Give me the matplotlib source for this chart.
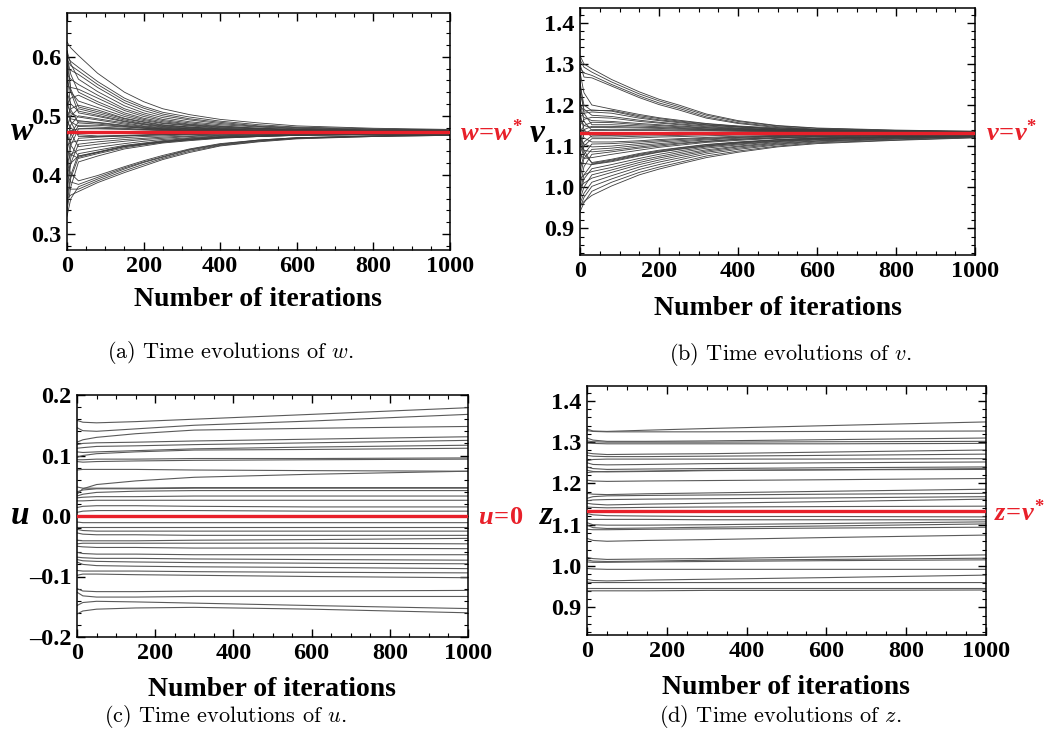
import numpy as np
import matplotlib
matplotlib.use("Agg")
from matplotlib import pyplot as plt
from matplotlib.ticker import MultipleLocator, FuncFormatter

# sample iterations for (a), (b) and for (c), (d)
t_conv = [0, 10, 30, 80, 150, 200, 250, 320, 400, 500, 600, 800, 1000]
t_flat = [0, 15, 50, 150, 300, 600, 1000]

# (a) w trajectories, one list per sample iteration
w_0 = [0.625, 0.600, 0.595, 0.580, 0.610, 0.570, 0.550, 0.600, 0.520, 0.560, 0.500, 0.590, 0.480, 0.540,
       0.610, 0.460, 0.520, 0.440, 0.500, 0.580, 0.420, 0.510, 0.400, 0.470, 0.490, 0.380, 0.540, 0.450,
       0.370, 0.500, 0.420, 0.360, 0.470, 0.350, 0.400, 0.440, 0.340, 0.400, 0.330, 0.380, 0.360, 0.420]
w_10 = [0.615, 0.592, 0.585, 0.577, 0.588, 0.562, 0.548, 0.570, 0.530, 0.540, 0.512, 0.545, 0.500, 0.520,
        0.540, 0.485, 0.505, 0.470, 0.495, 0.510, 0.460, 0.490, 0.450, 0.475, 0.480, 0.430, 0.490, 0.455,
        0.420, 0.470, 0.435, 0.400, 0.450, 0.395, 0.420, 0.435, 0.380, 0.388, 0.360, 0.376, 0.366, 0.402]
w_30 = [0.602, 0.582, 0.576, 0.570, 0.562, 0.553, 0.545, 0.540, 0.535, 0.525, 0.518, 0.515, 0.512, 0.508,
        0.505, 0.500, 0.498, 0.490, 0.492, 0.488, 0.484, 0.482, 0.478, 0.478, 0.468, 0.462, 0.465, 0.458,
        0.452, 0.448, 0.442, 0.436, 0.432, 0.430, 0.432, 0.428, 0.422, 0.384, 0.380, 0.376, 0.372, 0.390]
w_80 = [0.572, 0.558, 0.553, 0.548, 0.541, 0.535, 0.530, 0.524, 0.520, 0.514, 0.510, 0.507, 0.504, 0.501,
        0.499, 0.495, 0.493, 0.489, 0.488, 0.486, 0.484, 0.481, 0.479, 0.478, 0.466, 0.464, 0.465, 0.460,
        0.456, 0.452, 0.447, 0.442, 0.439, 0.438, 0.438, 0.436, 0.432, 0.396, 0.393, 0.390, 0.387, 0.399]
w_150 = [0.540, 0.530, 0.526, 0.522, 0.517, 0.512, 0.509, 0.505, 0.502, 0.499, 0.496, 0.495, 0.493, 0.491,
         0.490, 0.488, 0.486, 0.484, 0.483, 0.482, 0.481, 0.479, 0.478, 0.477, 0.467, 0.466, 0.466, 0.463,
         0.460, 0.457, 0.453, 0.450, 0.449, 0.448, 0.448, 0.446, 0.444, 0.412, 0.410, 0.407, 0.404, 0.414]
w_200 = [0.524, 0.516, 0.513, 0.509, 0.505, 0.502, 0.499, 0.496, 0.494, 0.492, 0.490, 0.489, 0.487, 0.486,
         0.485, 0.483, 0.482, 0.481, 0.480, 0.479, 0.479, 0.477, 0.477, 0.476, 0.468, 0.467, 0.467, 0.465,
         0.462, 0.460, 0.457, 0.454, 0.453, 0.452, 0.452, 0.451, 0.449, 0.422, 0.421, 0.418, 0.415, 0.424]
w_250 = [0.512, 0.506, 0.503, 0.500, 0.497, 0.494, 0.492, 0.490, 0.488, 0.487, 0.485, 0.484, 0.483, 0.482,
         0.481, 0.480, 0.479, 0.478, 0.478, 0.477, 0.477, 0.476, 0.476, 0.475, 0.469, 0.468, 0.468, 0.466,
         0.464, 0.462, 0.460, 0.458, 0.457, 0.456, 0.456, 0.455, 0.454, 0.431, 0.430, 0.428, 0.426, 0.433]
w_320 = [0.502, 0.498, 0.495, 0.493, 0.490, 0.488, 0.486, 0.485, 0.484, 0.483, 0.481, 0.481, 0.480, 0.479,
         0.478, 0.478, 0.477, 0.477, 0.476, 0.475, 0.475, 0.475, 0.475, 0.474, 0.470, 0.469, 0.469, 0.468,
         0.466, 0.465, 0.463, 0.462, 0.461, 0.460, 0.460, 0.459, 0.458, 0.443, 0.442, 0.440, 0.438, 0.444]
w_400 = [0.494, 0.491, 0.489, 0.487, 0.485, 0.483, 0.482, 0.481, 0.480, 0.479, 0.478, 0.478, 0.477, 0.477,
         0.476, 0.476, 0.475, 0.475, 0.475, 0.474, 0.474, 0.474, 0.474, 0.474, 0.470, 0.470, 0.470, 0.469,
         0.468, 0.467, 0.466, 0.465, 0.464, 0.464, 0.463, 0.463, 0.462, 0.452, 0.451, 0.450, 0.449, 0.453]
w_500 = [0.488, 0.485, 0.483, 0.482, 0.481, 0.479, 0.479, 0.478, 0.478, 0.477, 0.476, 0.476, 0.475, 0.475,
         0.475, 0.475, 0.474, 0.474, 0.474, 0.474, 0.473, 0.473, 0.473, 0.473, 0.471, 0.471, 0.471, 0.470,
         0.469, 0.468, 0.468, 0.467, 0.466, 0.466, 0.465, 0.465, 0.465, 0.459, 0.458, 0.457, 0.456, 0.459]
w_600 = [0.483, 0.481, 0.480, 0.479, 0.478, 0.477, 0.477, 0.476, 0.476, 0.475, 0.475, 0.475, 0.474, 0.474,
         0.474, 0.474, 0.473, 0.473, 0.473, 0.473, 0.473, 0.473, 0.473, 0.473, 0.471, 0.471, 0.471, 0.470,
         0.470, 0.469, 0.469, 0.468, 0.468, 0.468, 0.467, 0.467, 0.467, 0.463, 0.462, 0.462, 0.461, 0.463]
w_800 = [0.479, 0.478, 0.477, 0.476, 0.476, 0.475, 0.475, 0.475, 0.474, 0.474, 0.473, 0.473, 0.473, 0.473,
         0.473, 0.473, 0.472, 0.472, 0.472, 0.472, 0.472, 0.472, 0.472, 0.472, 0.471, 0.471, 0.471, 0.471,
         0.471, 0.470, 0.470, 0.469, 0.469, 0.469, 0.469, 0.468, 0.468, 0.466, 0.466, 0.465, 0.465, 0.466]
w_1000 = [0.477, 0.476, 0.476, 0.475, 0.475, 0.474, 0.474, 0.474, 0.474, 0.473, 0.473, 0.473, 0.473, 0.473,
          0.472, 0.472, 0.472, 0.472, 0.472, 0.472, 0.472, 0.472, 0.472, 0.472, 0.471, 0.471, 0.471, 0.471,
          0.471, 0.470, 0.470, 0.470, 0.470, 0.470, 0.470, 0.469, 0.469, 0.468, 0.468, 0.467, 0.467, 0.468]
w_star = 0.472

# (b) v trajectories
v_0 = [1.320, 1.310, 1.290, 1.300, 1.280, 1.250, 1.200, 1.170, 1.230, 1.150, 1.190, 1.130, 1.260, 1.120,
       1.170, 1.100, 1.210, 1.140, 1.080, 1.180, 1.060, 1.150, 1.040, 1.120, 1.020, 1.100, 1.000, 1.080,
       1.120, 1.140, 0.990, 1.060, 0.980, 1.020, 0.970, 1.000, 0.960, 0.950, 0.940, 0.955]
v_10 = [1.300, 1.292, 1.278, 1.268, 1.230, 1.200, 1.185, 1.180, 1.190, 1.165, 1.170, 1.150, 1.180, 1.140,
        1.150, 1.130, 1.160, 1.135, 1.110, 1.140, 1.100, 1.120, 1.080, 1.105, 1.070, 1.090, 1.050, 1.070,
        1.080, 1.090, 1.030, 1.058, 1.020, 1.030, 1.000, 1.010, 0.985, 0.975, 0.962, 0.965]
v_30 = [1.288, 1.280, 1.272, 1.266, 1.200, 1.186, 1.188, 1.183, 1.175, 1.170, 1.162, 1.158, 1.152, 1.148,
        1.145, 1.140, 1.138, 1.130, 1.125, 1.122, 1.118, 1.110, 1.105, 1.098, 1.092, 1.086, 1.080, 1.072,
        1.060, 1.058, 1.056, 1.055, 1.045, 1.038, 1.030, 1.022, 1.012, 1.002, 0.990, 0.980]
v_80 = [1.262, 1.256, 1.250, 1.246, 1.190, 1.187, 1.185, 1.180, 1.172, 1.168, 1.160, 1.157, 1.152, 1.148,
        1.145, 1.141, 1.138, 1.129, 1.126, 1.122, 1.118, 1.110, 1.106, 1.100, 1.095, 1.090, 1.086, 1.080,
        1.068, 1.066, 1.064, 1.062, 1.055, 1.048, 1.042, 1.036, 1.028, 1.020, 1.012, 1.003]
v_150 = [1.232, 1.227, 1.222, 1.218, 1.177, 1.174, 1.171, 1.168, 1.163, 1.160, 1.155, 1.152, 1.149, 1.146,
         1.144, 1.140, 1.138, 1.129, 1.127, 1.124, 1.120, 1.113, 1.110, 1.106, 1.102, 1.098, 1.095, 1.090,
         1.082, 1.080, 1.078, 1.076, 1.070, 1.065, 1.060, 1.055, 1.049, 1.043, 1.036, 1.030]
v_200 = [1.214, 1.210, 1.205, 1.201, 1.169, 1.167, 1.164, 1.162, 1.158, 1.156, 1.152, 1.150, 1.147, 1.145,
         1.143, 1.140, 1.138, 1.130, 1.128, 1.125, 1.122, 1.116, 1.113, 1.110, 1.106, 1.103, 1.100, 1.097,
         1.090, 1.088, 1.086, 1.085, 1.080, 1.075, 1.071, 1.066, 1.061, 1.055, 1.049, 1.044]
v_250 = [1.200, 1.196, 1.192, 1.188, 1.163, 1.161, 1.159, 1.157, 1.154, 1.152, 1.149, 1.147, 1.145, 1.143,
         1.141, 1.139, 1.137, 1.130, 1.128, 1.126, 1.123, 1.118, 1.116, 1.113, 1.110, 1.107, 1.105, 1.102,
         1.096, 1.095, 1.093, 1.092, 1.088, 1.084, 1.080, 1.076, 1.071, 1.066, 1.060, 1.056]
v_320 = [1.178, 1.175, 1.171, 1.168, 1.155, 1.154, 1.152, 1.151, 1.149, 1.147, 1.145, 1.144, 1.142, 1.141,
         1.140, 1.138, 1.137, 1.131, 1.129, 1.128, 1.125, 1.121, 1.119, 1.117, 1.115, 1.112, 1.111, 1.109,
         1.104, 1.103, 1.101, 1.100, 1.098, 1.095, 1.091, 1.088, 1.085, 1.081, 1.076, 1.072]
v_400 = [1.162, 1.160, 1.157, 1.155, 1.149, 1.148, 1.147, 1.146, 1.144, 1.143, 1.142, 1.141, 1.140, 1.139,
         1.138, 1.137, 1.136, 1.131, 1.130, 1.129, 1.127, 1.124, 1.122, 1.121, 1.119, 1.117, 1.116, 1.114,
         1.110, 1.109, 1.108, 1.107, 1.105, 1.103, 1.100, 1.098, 1.095, 1.092, 1.088, 1.085]
v_500 = [1.150, 1.149, 1.147, 1.145, 1.144, 1.142, 1.142, 1.141, 1.140, 1.139, 1.139, 1.138, 1.138, 1.137,
         1.136, 1.136, 1.135, 1.132, 1.131, 1.130, 1.128, 1.126, 1.125, 1.124, 1.123, 1.121, 1.120, 1.119,
         1.116, 1.115, 1.115, 1.113, 1.112, 1.111, 1.109, 1.107, 1.105, 1.103, 1.100, 1.098]
v_600 = [1.144, 1.143, 1.141, 1.140, 1.140, 1.139, 1.139, 1.138, 1.138, 1.137, 1.137, 1.136, 1.136, 1.136,
         1.135, 1.135, 1.135, 1.132, 1.131, 1.130, 1.129, 1.128, 1.127, 1.126, 1.125, 1.124, 1.123, 1.122,
         1.120, 1.119, 1.119, 1.118, 1.117, 1.116, 1.115, 1.113, 1.112, 1.110, 1.108, 1.106]
v_800 = [1.139, 1.138, 1.137, 1.137, 1.137, 1.136, 1.136, 1.135, 1.135, 1.135, 1.135, 1.135, 1.135, 1.135,
         1.134, 1.134, 1.134, 1.132, 1.132, 1.131, 1.130, 1.129, 1.129, 1.128, 1.127, 1.126, 1.126, 1.125,
         1.124, 1.123, 1.123, 1.122, 1.122, 1.121, 1.120, 1.119, 1.118, 1.117, 1.115, 1.114]
v_1000 = [1.136, 1.136, 1.135, 1.135, 1.135, 1.135, 1.135, 1.134, 1.134, 1.134, 1.134, 1.134, 1.134, 1.134,
          1.134, 1.133, 1.133, 1.132, 1.132, 1.131, 1.131, 1.130, 1.130, 1.129, 1.129, 1.128, 1.128, 1.127,
          1.126, 1.126, 1.125, 1.125, 1.125, 1.124, 1.124, 1.123, 1.123, 1.122, 1.121, 1.120]
v_star = 1.133

# (c) u trajectories
u_0 = [0.158, 0.146, 0.122, 0.118, 0.112, 0.106, 0.097, 0.093, 0.090, 0.076, 0.036, 0.048, 0.040, 0.033,
       0.030, 0.025, 0.014, 0.006, -0.010, -0.018, -0.022, -0.028, -0.040, -0.046, -0.050, -0.060, -0.068,
       -0.072, -0.076, -0.090, -0.098, -0.120, -0.126, -0.148, -0.162]
u_15 = [0.155, 0.141, 0.126, 0.120, 0.113, 0.105, 0.100, 0.093, 0.089, 0.077, 0.045, 0.046, 0.043, 0.036,
        0.031, 0.025, 0.016, 0.008, -0.011, -0.018, -0.024, -0.030, -0.041, -0.045, -0.051, -0.062, -0.069,
        -0.074, -0.080, -0.091, -0.096, -0.124, -0.132, -0.143, -0.157]
u_50 = [0.154, 0.140, 0.130, 0.121, 0.115, 0.106, 0.103, 0.094, 0.090, 0.077, 0.052, 0.046, 0.045, 0.039,
        0.032, 0.026, 0.017, 0.009, -0.011, -0.018, -0.025, -0.031, -0.041, -0.045, -0.052, -0.063, -0.070,
        -0.075, -0.082, -0.091, -0.096, -0.125, -0.134, -0.141, -0.154]
u_150 = [0.156, 0.144, 0.136, 0.122, 0.116, 0.108, 0.106, 0.094, 0.091, 0.077, 0.058, 0.046, 0.045, 0.041,
         0.032, 0.026, 0.017, 0.009, -0.011, -0.018, -0.025, -0.031, -0.041, -0.045, -0.052, -0.063, -0.070,
         -0.076, -0.083, -0.091, -0.097, -0.125, -0.134, -0.142, -0.152]
u_300 = [0.160, 0.150, 0.142, 0.124, 0.118, 0.111, 0.109, 0.095, 0.092, 0.076, 0.064, 0.047, 0.046, 0.042,
         0.033, 0.026, 0.016, 0.009, -0.011, -0.018, -0.025, -0.032, -0.040, -0.045, -0.053, -0.064, -0.071,
         -0.077, -0.084, -0.092, -0.098, -0.124, -0.133, -0.144, -0.151]
u_600 = [0.168, 0.157, 0.145, 0.127, 0.121, 0.114, 0.110, 0.095, 0.093, 0.075, 0.069, 0.047, 0.046, 0.042,
         0.033, 0.026, 0.015, 0.008, -0.011, -0.018, -0.025, -0.032, -0.039, -0.045, -0.053, -0.064, -0.072,
         -0.078, -0.085, -0.093, -0.100, -0.124, -0.133, -0.148, -0.154]
u_1000 = [0.179, 0.168, 0.148, 0.131, 0.125, 0.117, 0.112, 0.096, 0.094, 0.074, 0.074, 0.047, 0.046, 0.042,
          0.033, 0.026, 0.015, 0.008, -0.011, -0.018, -0.025, -0.032, -0.037, -0.046, -0.054, -0.064, -0.073,
          -0.079, -0.087, -0.094, -0.102, -0.123, -0.133, -0.153, -0.160]
u_star = 0.0

# (d) z trajectories
z_0 = [1.332, 1.328, 1.310, 1.303, 1.298, 1.274, 1.268, 1.255, 1.250, 1.240, 1.232, 1.226, 1.208, 1.176,
       1.164, 1.158, 1.152, 1.143, 1.127, 1.113, 1.105, 1.099, 1.089, 1.067, 1.021, 1.015, 1.010, 0.994,
       0.968, 0.961, 0.946, 0.940]
z_15 = [1.327, 1.326, 1.305, 1.301, 1.297, 1.272, 1.266, 1.258, 1.246, 1.236, 1.229, 1.228, 1.206, 1.174,
        1.168, 1.160, 1.150, 1.142, 1.124, 1.113, 1.100, 1.093, 1.088, 1.062, 1.018, 1.012, 1.009, 0.993,
        0.965, 0.960, 0.946, 0.940]
z_50 = [1.326, 1.325, 1.302, 1.300, 1.296, 1.270, 1.265, 1.259, 1.245, 1.234, 1.228, 1.229, 1.205, 1.173,
        1.170, 1.161, 1.148, 1.141, 1.122, 1.113, 1.099, 1.091, 1.088, 1.060, 1.016, 1.011, 1.009, 0.992,
        0.964, 0.960, 0.946, 0.940]
z_150 = [1.329, 1.325, 1.302, 1.300, 1.296, 1.271, 1.265, 1.259, 1.246, 1.235, 1.229, 1.230, 1.206, 1.175,
         1.171, 1.162, 1.150, 1.142, 1.121, 1.113, 1.099, 1.092, 1.089, 1.062, 1.017, 1.012, 1.010, 0.992,
         0.966, 0.960, 0.946, 0.940]
z_300 = [1.333, 1.325, 1.303, 1.300, 1.296, 1.272, 1.266, 1.259, 1.248, 1.236, 1.231, 1.232, 1.207, 1.177,
         1.172, 1.163, 1.152, 1.143, 1.120, 1.112, 1.100, 1.094, 1.090, 1.064, 1.018, 1.014, 1.011, 0.992,
         0.968, 0.960, 0.946, 0.941]
z_600 = [1.340, 1.326, 1.306, 1.301, 1.296, 1.276, 1.268, 1.259, 1.250, 1.238, 1.233, 1.233, 1.209, 1.181,
         1.174, 1.165, 1.156, 1.144, 1.120, 1.112, 1.103, 1.097, 1.092, 1.069, 1.022, 1.016, 1.013, 0.992,
         0.972, 0.960, 0.946, 0.941]
z_1000 = [1.349, 1.327, 1.310, 1.302, 1.297, 1.281, 1.271, 1.260, 1.252, 1.240, 1.236, 1.234, 1.212, 1.186,
          1.176, 1.168, 1.162, 1.145, 1.119, 1.112, 1.107, 1.102, 1.094, 1.075, 1.027, 1.019, 1.015, 0.992,
          0.978, 0.960, 0.946, 0.942]

plt.rcParams['font.family'] = 'Liberation Serif'
plt.rcParams['font.weight'] = 'bold'
plt.rcParams['mathtext.fontset'] = 'custom'
plt.rcParams['mathtext.it'] = 'Liberation Serif:italic:bold'
plt.rcParams['mathtext.rm'] = 'Liberation Serif:bold'

W, H = 1048, 754
fig = plt.figure(figsize=(W / 100, H / 100), dpi=100)
RED = '#e8202a'


def px_axes(x0, y0, x1, y1):
    return fig.add_axes([x0 / W, 1 - y1 / H, (x1 - x0) / W, (y1 - y0) / H])


def ftext(x, y, s, **kw):
    fig.text(x / W, 1 - y / H, s, **kw)


def yfmt(v, pos):
    s = '%.1f' % abs(v)
    return ('\u2013' + s) if v < -1e-9 else s


def panel(ax, t, cols, star, ylim, color, lw):
    traj = np.column_stack(cols)
    ax.plot(t, traj.T, color=color, lw=lw)
    ax.plot([0, 1000], [star, star], color=RED, lw=2.4, zorder=5)
    ax.set_xlim(0, 1000)
    ax.set_ylim(*ylim)
    ax.xaxis.set_major_locator(MultipleLocator(200))
    ax.xaxis.set_minor_locator(MultipleLocator(50))
    ax.yaxis.set_major_locator(MultipleLocator(0.1))
    ax.yaxis.set_minor_locator(MultipleLocator(0.02))
    ax.yaxis.set_major_formatter(FuncFormatter(yfmt))
    ax.tick_params(which='both', direction='in', top=True, right=True, labelsize=17.5, pad=4)
    ax.tick_params(which='major', length=6, width=1)
    ax.tick_params(which='minor', length=3, width=0.8)
    for sp in ax.spines.values():
        sp.set_linewidth(1.1)


ax_a = px_axes(67, 13, 450, 250)
panel(ax_a, t_conv, [w_0, w_10, w_30, w_80, w_150, w_200, w_250, w_320, w_400, w_500, w_600, w_800, w_1000],
      w_star, (0.273, 0.674), '#3c3c3c', 0.6)
ax_b = px_axes(580, 8, 975, 255)
panel(ax_b, t_conv, [v_0, v_10, v_30, v_80, v_150, v_200, v_250, v_320, v_400, v_500, v_600, v_800, v_1000],
      v_star, (0.835, 1.436), '#3c3c3c', 0.6)
ax_c = px_axes(77, 395, 468, 637)
panel(ax_c, t_flat, [u_0, u_15, u_50, u_150, u_300, u_600, u_1000], u_star, (-0.2, 0.2), '#5a5a5a', 0.8)
ax_d = px_axes(587, 386, 986, 635)
panel(ax_d, t_flat, [z_0, z_15, z_50, z_150, z_300, z_600, z_1000], v_star, (0.833, 1.436), '#5a5a5a', 0.8)

# axis titles
for cx, cy in [(258, 300), (778, 308), (272, 690), (786, 688)]:
    ftext(cx, cy, 'Number of iterations', fontsize=20, fontweight='bold', ha='center', va='center')

# variable names on the left
for cx, cy, s in [(22, 131, 'w'), (537, 133, 'v'), (20, 515, 'u'), (546, 515, 'z')]:
    ftext(cx, cy, s, fontsize=24, fontweight='bold', fontstyle='italic', ha='center', va='center')

# red equilibrium labels
for cx, cy, s in [(460, 133, r'$w\!=\!w^{*}$'), (986, 133, r'$v\!=\!v^{*}$'),
                  (478, 517, r'$u\!=\!0$'), (994, 513, r'$z\!=\!v^{*}$')]:
    ftext(cx, cy, s, fontsize=19, color=RED, ha='left', va='center')

# captions
for cx, cy, s in [(230, 353, r'(a) Time evolutions of $w$.'), (790, 355, r'(b) Time evolutions of $v$.'),
                  (225, 716, r'(c) Time evolutions of $u$.'), (780, 716, r'(d) Time evolutions of $z$.')]:
    fig.text(cx / W, 1 - cy / H, s, fontsize=16, family='cmr10', fontweight='normal',
             math_fontfamily='cm', ha='center', va='center')

fig.savefig('out.png', dpi=100)
